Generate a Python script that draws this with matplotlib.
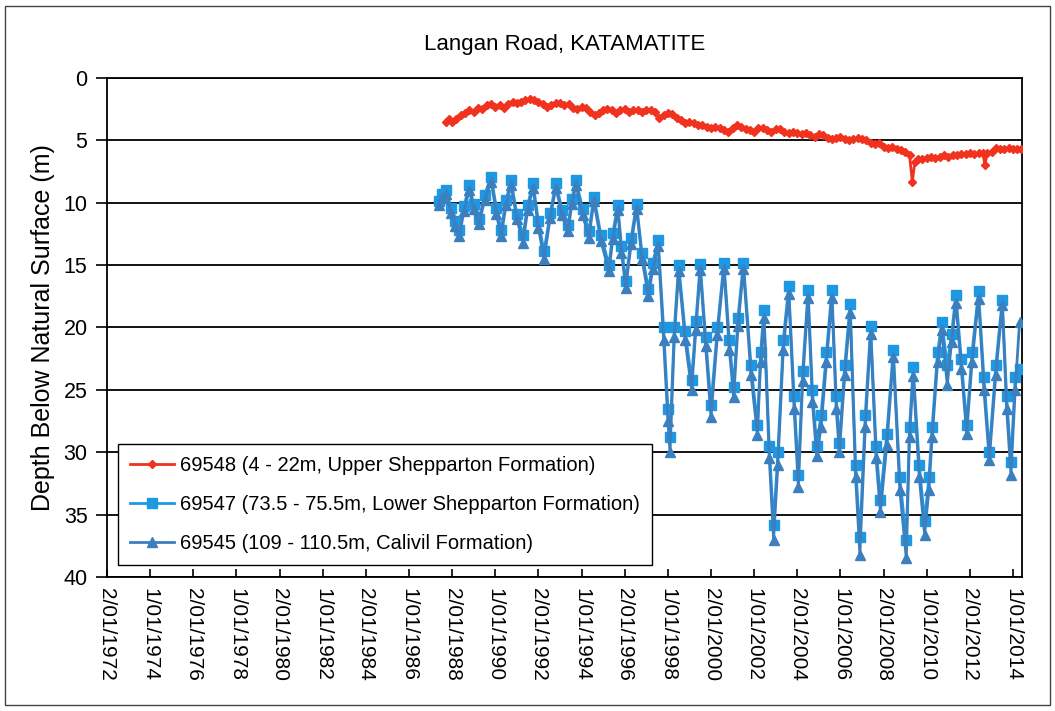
"""
Hidrograma - Langan Road, KATAMATITE
Profundidade do nivel freatico em tres furos de monitoramento
"""

from datetime import datetime, timedelta

import matplotlib
matplotlib.use('Agg')
import matplotlib.pyplot as plt
from matplotlib.patches import Rectangle

plt.rcParams['font.family'] = ['Liberation Sans', 'DejaVu Sans']

TITLE = 'Langan Road, KATAMATITE'
Y_LABEL = 'Depth Below Natural Surface (m)'

LABEL_RED = '69548 (4 - 22m, Upper Shepparton Formation)'
LABEL_SQ = '69547 (73.5 - 75.5m, Lower Shepparton Formation)'
LABEL_TRI = '69545 (109 - 110.5m, Calivil Formation)'

X_TICK_LABELS = [
    '2/01/1972', '1/01/1974', '2/01/1976', '1/01/1978', '2/01/1980',
    '1/01/1982', '2/01/1984', '1/01/1986', '2/01/1988', '1/01/1990',
    '2/01/1992', '1/01/1994', '2/01/1996', '1/01/1998', '2/01/2000',
    '1/01/2002', '2/01/2004', '1/01/2006', '2/01/2008', '1/01/2010',
    '2/01/2012', '1/01/2014',
]
Y_TICKS = [0, 5, 10, 15, 20, 25, 30, 35, 40]

# 69548 - furo raso (anos decimais / profundidade em m)
red_years = [
    1987.70, 1987.85, 1988.00, 1988.20, 1988.40, 1988.60, 1988.80, 1989.00,
    1989.20, 1989.40, 1989.60, 1989.80, 1990.00, 1990.20, 1990.40, 1990.60,
    1990.80, 1991.00, 1991.20, 1991.40, 1991.60, 1991.80, 1992.00, 1992.20,
    1992.40, 1992.60, 1992.80, 1993.00, 1993.20, 1993.40, 1993.60, 1993.80,
    1994.00, 1994.20, 1994.40, 1994.60, 1994.80, 1995.00, 1995.20, 1995.40,
    1995.60, 1995.80, 1996.00, 1996.20, 1996.40, 1996.60, 1996.80, 1997.00,
    1997.20, 1997.40, 1997.60, 1997.80, 1998.00, 1998.20, 1998.40, 1998.60,
    1998.80, 1999.00, 1999.20, 1999.40, 1999.60, 1999.80, 2000.00, 2000.20,
    2000.40, 2000.60, 2000.80, 2001.00, 2001.20, 2001.40, 2001.60, 2001.80,
    2002.00, 2002.20, 2002.40, 2002.60, 2002.80, 2003.00, 2003.20, 2003.40,
    2003.60, 2003.80, 2004.00, 2004.20, 2004.40, 2004.60, 2004.80, 2005.00,
    2005.20, 2005.40, 2005.60, 2005.80, 2006.00, 2006.20, 2006.40, 2006.60,
    2006.80, 2007.00, 2007.20, 2007.40, 2007.60, 2007.80, 2008.00, 2008.20,
    2008.40, 2008.60, 2008.80, 2009.00, 2009.20, 2009.33, 2009.45, 2009.60,
    2009.80, 2010.00, 2010.20, 2010.40, 2010.60, 2010.80, 2011.00, 2011.20,
    2011.40, 2011.60, 2011.80, 2012.00, 2012.20, 2012.40, 2012.60, 2012.70,
    2012.80, 2013.00, 2013.20, 2013.40, 2013.60, 2013.80, 2014.00, 2014.20,
    2014.35,
]
red_depth = [
    3.5, 3.3, 3.5, 3.3, 3.0, 2.8, 2.6, 2.7,
    2.4, 2.5, 2.2, 2.1, 2.3, 2.2, 2.4, 2.1,
    1.9, 2.0, 1.9, 1.8, 1.7, 1.8, 1.9, 2.1,
    2.3, 2.2, 2.0, 2.0, 2.2, 2.1, 2.4, 2.5,
    2.3, 2.4, 2.7, 3.0, 2.8, 2.6, 2.5, 2.6,
    2.8, 2.6, 2.5, 2.7, 2.6, 2.6, 2.7, 2.6,
    2.6, 2.7, 3.2, 3.0, 2.8, 2.9, 3.2, 3.4,
    3.6, 3.5, 3.6, 3.8, 3.8, 3.9, 4.0, 3.9,
    4.0, 4.2, 4.3, 4.0, 3.8, 3.9, 4.1, 4.2,
    4.3, 4.0, 4.0, 4.2, 4.3, 4.1, 4.1, 4.3,
    4.4, 4.3, 4.4, 4.5, 4.4, 4.6, 4.7, 4.5,
    4.6, 4.8, 4.9, 4.8, 4.7, 4.9, 5.0, 4.9,
    4.8, 4.9, 5.0, 5.2, 5.3, 5.2, 5.5, 5.6,
    5.5, 5.7, 5.8, 5.9, 6.2, 8.3, 6.7, 6.5,
    6.5, 6.4, 6.3, 6.4, 6.3, 6.2, 6.3, 6.2,
    6.2, 6.1, 6.1, 6.0, 6.1, 6.0, 6.0, 7.0,
    6.0, 5.9, 5.6, 5.7, 5.7, 5.6, 5.7, 5.7,
    5.7,
]

# 69547 e 69545 - furos profundos (mesmas datas de leitura)
blue_years = [
    1987.40, 1987.55, 1987.73, 1987.95, 1988.15, 1988.33, 1988.55, 1988.79,
    1989.00, 1989.25, 1989.50, 1989.81, 1990.05, 1990.27, 1990.50, 1990.73,
    1991.00, 1991.29, 1991.50, 1991.75, 1992.00, 1992.26, 1992.55, 1992.81,
    1993.10, 1993.37, 1993.55, 1993.74, 1994.05, 1994.34, 1994.57, 1994.90,
    1995.27, 1995.45, 1995.68, 1995.85, 1996.05, 1996.30, 1996.55, 1996.80,
    1997.10, 1997.30, 1997.55, 1997.80, 1998.00, 1998.10, 1998.30, 1998.50,
    1998.80, 1999.10, 1999.30, 1999.50, 1999.75, 2000.00, 2000.30, 2000.60,
    2000.85, 2001.05, 2001.25, 2001.50, 2001.85, 2002.15, 2002.30, 2002.45,
    2002.70, 2002.90, 2003.10, 2003.35, 2003.60, 2003.85, 2004.05, 2004.25,
    2004.50, 2004.70, 2004.90, 2005.10, 2005.35, 2005.60, 2005.80, 2005.95,
    2006.20, 2006.45, 2006.70, 2006.90, 2007.15, 2007.40, 2007.65, 2007.85,
    2008.15, 2008.45, 2008.75, 2009.05, 2009.20, 2009.37, 2009.65, 2009.90,
    2010.10, 2010.25, 2010.50, 2010.70, 2010.95, 2011.15, 2011.35, 2011.60,
    2011.85, 2012.10, 2012.40, 2012.65, 2012.90, 2013.20, 2013.50, 2013.70,
    2013.90, 2014.10, 2014.30,
]
sq_depth = [
    9.9, 9.3, 9.0, 10.4, 11.5, 12.2, 10.3, 8.6,
    10.1, 11.3, 9.4, 7.9, 10.4, 12.2, 9.8, 8.2,
    10.9, 12.6, 10.2, 8.4, 11.5, 13.9, 10.8, 8.4,
    10.6, 11.8, 9.7, 8.2, 10.5, 12.3, 9.5, 12.6,
    15.0, 12.4, 10.2, 13.5, 16.3, 12.8, 10.1, 14.0,
    16.9, 14.8, 13.0, 20.0, 26.5, 28.8, 20.0, 15.0,
    20.3, 24.2, 19.5, 14.9, 20.8, 26.2, 20.0, 14.8,
    21.0, 24.8, 19.2, 14.8, 23.0, 27.8, 22.0, 18.6,
    29.5, 35.8, 30.0, 21.0, 16.7, 25.5, 31.8, 23.5,
    17.0, 25.0, 29.5, 27.0, 22.0, 17.0, 25.5, 29.3,
    23.0, 18.1, 31.0, 36.8, 27.0, 19.9, 29.5, 33.8,
    28.5, 21.8, 32.0, 37.0, 28.0, 23.2, 31.0, 35.5,
    32.0, 28.0, 22.0, 19.6, 23.0, 20.5, 17.4, 22.5,
    27.8, 22.0, 17.1, 24.0, 30.0, 23.0, 17.8, 25.5,
    30.8, 24.0, 23.3,
]
tri_depth = [
    10.2, 9.6, 9.3, 10.8, 11.9, 12.7, 10.7, 9.0,
    10.5, 11.7, 9.8, 8.3, 10.9, 12.7, 10.2, 8.6,
    11.3, 13.2, 10.6, 8.8, 12.0, 14.5, 11.2, 8.8,
    11.0, 12.3, 10.1, 8.6, 11.0, 12.8, 9.9, 13.1,
    15.5, 12.9, 10.6, 14.0, 16.8, 13.3, 10.5, 14.5,
    17.5, 15.3, 13.5, 21.0, 27.5, 30.0, 20.8, 15.5,
    21.0, 25.0, 20.2, 15.4, 21.5, 27.2, 20.6, 15.3,
    21.8, 25.6, 19.9, 15.3, 23.8, 28.6, 22.8, 19.2,
    30.5, 37.0, 31.0, 21.8, 17.3, 26.5, 32.8, 24.3,
    17.6, 26.0, 30.3, 28.0, 22.8, 17.6, 26.5, 30.0,
    23.8, 18.8, 32.0, 38.2, 28.0, 20.5, 30.5, 34.8,
    29.4, 22.4, 33.0, 38.5, 28.8, 23.9, 32.0, 36.6,
    33.0, 28.8, 22.8, 20.2, 24.6, 21.2, 18.0, 23.3,
    28.5, 22.8, 17.7, 25.0, 30.6, 23.8, 18.2, 26.5,
    31.8, 25.0, 19.6,
]

RED = '#F0321E'
BLUE_SQ = '#1E98E2'
BLUE_TRI = '#3B7FBF'


def to_dates(years):
    """Converte anos decimais em datetime"""
    out = []
    for y in years:
        base = datetime(int(y), 1, 1)
        out.append(base + timedelta(days=(y - int(y)) * 365.25))
    return out


def main():
    fig = plt.figure(figsize=(10.55, 7.11), dpi=100)
    ax = fig.add_axes([0.1014, 0.1885, 0.8673, 0.7018])

    ax.plot(to_dates(red_years), red_depth, color=RED, lw=2.0,
            marker='D', ms=4.0, label=LABEL_RED, zorder=4)
    ax.plot(to_dates(blue_years), sq_depth, color=BLUE_SQ, lw=2.0,
            marker='s', ms=6.5, label=LABEL_SQ, zorder=3)
    ax.plot(to_dates(blue_years), tri_depth, color=BLUE_TRI, lw=2.0,
            marker='^', ms=6.5, label=LABEL_TRI, zorder=3)

    # Eixo Y invertido (profundidade)
    ax.set_ylim(40, 0)
    ax.set_yticks(Y_TICKS)
    ax.grid(axis='y', color='black', lw=1.3)
    ax.set_axisbelow(True)

    tick_dates = [datetime.strptime(t, '%d/%m/%Y') for t in X_TICK_LABELS]
    ax.set_xticks(tick_dates)
    ax.set_xticklabels(X_TICK_LABELS, rotation=-90, fontsize=15)
    ax.set_xlim(datetime(1972, 1, 2), datetime(2014, 6, 1))

    ax.tick_params(axis='y', direction='out', length=8, width=1.2,
                   labelsize=15.5, pad=6)
    ax.tick_params(axis='x', direction='in', length=6, width=1.2, pad=8)
    for s in ax.spines.values():
        s.set_color('black')
        s.set_linewidth(1.3)

    ax.set_ylabel(Y_LABEL, fontsize=18, labelpad=6)
    ax.set_title(TITLE, fontsize=16, pad=20)

    leg = ax.legend(loc='lower left', bbox_to_anchor=(0.012, 0.024),
                    fontsize=14.5, frameon=True, fancybox=False,
                    edgecolor='black', framealpha=1, handlelength=2.2,
                    labelspacing=1.0, borderpad=0.6, handletextpad=0.3,
                    borderaxespad=0)
    leg.get_frame().set_linewidth(1.0)

    # Moldura do grafico
    fig.patches.append(Rectangle((0.005, 0.008), 0.99, 0.984,
                                 transform=fig.transFigure, fill=False,
                                 edgecolor='#444444', lw=1.0))

    fig.savefig('out.png', dpi=100)


if __name__ == '__main__':
    main()
